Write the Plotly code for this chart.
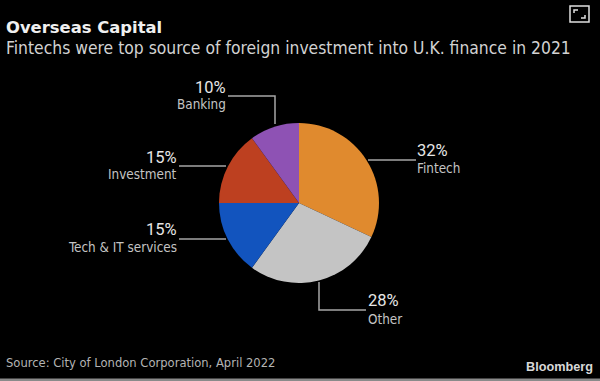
import plotly.graph_objects as go

categories = ["Fintech", "Other", "Tech & IT services", "Investment", "Banking"]
values = [32, 28, 15, 15, 10]
colors = ["#E08A2E", "#C4C4C4", "#1254BE", "#BD4020", "#8E52B4"]
W, H = 600, 381
FONT = "DejaVu Sans"
COND = "DejaVu Sans Condensed, DejaVu Sans"
NARROW = "Roboto, DejaVu Sans Condensed"

fig = go.Figure(go.Pie(
    labels=categories, values=values, sort=False, direction="clockwise", rotation=0,
    marker=dict(colors=colors, line=dict(width=0)), textinfo="none", hoverinfo="label+percent",
    showlegend=False,
    domain=dict(x=[219/W, 379/W], y=[1-283/H, 1-123/H]),
))

def txt(x, y, s, size, color, anchor="left", bold=False, family=FONT):
    if bold:
        s = f"<b>{s}</b>"
    fig.add_annotation(x=x/W, y=1-y/H, xref="paper", yref="paper", text=s, showarrow=False,
                       xanchor=anchor, yanchor="middle", align=anchor,
                       borderpad=0, borderwidth=0,
                       font=dict(size=size, color=color, family=family))

def line(points):
    path = "M " + " L ".join(f"{x/W} {1-y/H}" for x, y in points)
    fig.add_shape(type="path", path=path, xref="paper", yref="paper",
                  line=dict(color="#A6A6A6", width=1.5))

txt(6, 28, "Overseas Capital", 16.4, "#F0F0F0", bold=True)
txt(6, 48, "Fintechs were top source of foreign investment into U.K. finance in 2021", 17.35, "#D2D2D2", family=COND)
txt(6, 362, "Source: City of London Corporation, April 2022", 12.85, "#B4B4B4", family=COND)
txt(593, 367, "Bloomberg", 12.7, "#D8D8D8", anchor="right", bold=True, family="Liberation Sans")

line([(228, 96), (275, 96), (275, 124)])
line([(179, 166), (226, 166)])
line([(179, 239), (226, 239)])
line([(368, 160), (416, 160)])
line([(319, 282), (319, 310), (366, 310)])

labels = [
    (226, 87, 105, "10%", "Banking", "right"),
    (177, 157, 175, "15%", "Investment", "right"),
    (177, 229, 247, "15%", "Tech & IT services", "right"),
    (417, 150, 169, "32%", "Fintech", "left"),
    (368, 300, 319, "28%", "Other", "left"),
]
for x, y1, y2, pct, name, anc in labels:
    txt(x, y1, pct, 16.5, "#E6E6E6", anc, family=NARROW)
    txt(x, y2, name, 13.4, "#C4C4C4", anc, family=COND)

# expand icon
fig.add_shape(type="rect", x0=570/W, x1=589/W, y0=1-22/H, y1=1-6/H, xref="paper", yref="paper",
              line=dict(color="#E0E0E0", width=1.5))
line_icon = ["M %f %f L %f %f L %f %f" % (574/W, 1-13/H, 574/W, 1-10/H, 578/W, 1-10/H),
             "M %f %f L %f %f L %f %f" % (581/W, 1-18/H, 585/W, 1-18/H, 585/W, 1-15/H)]
for p in line_icon:
    fig.add_shape(type="path", path=p, xref="paper", yref="paper", line=dict(color="#E0E0E0", width=1.5))

# bottom edge
fig.add_shape(type="rect", x0=0, x1=1, y0=0, y1=2.5/H, xref="paper", yref="paper",
              line=dict(width=0), fillcolor="#8A8A8A")

fig.update_layout(width=W, height=H, margin=dict(l=0, r=0, t=0, b=0),
                  paper_bgcolor="#000000", plot_bgcolor="#000000", font=dict(family=FONT))
fig.write_html("out.html", config=dict(displayModeBar=False),
               post_script="document.body.style.margin='0';document.body.style.background='#000';document.body.style.overflow='hidden';")
